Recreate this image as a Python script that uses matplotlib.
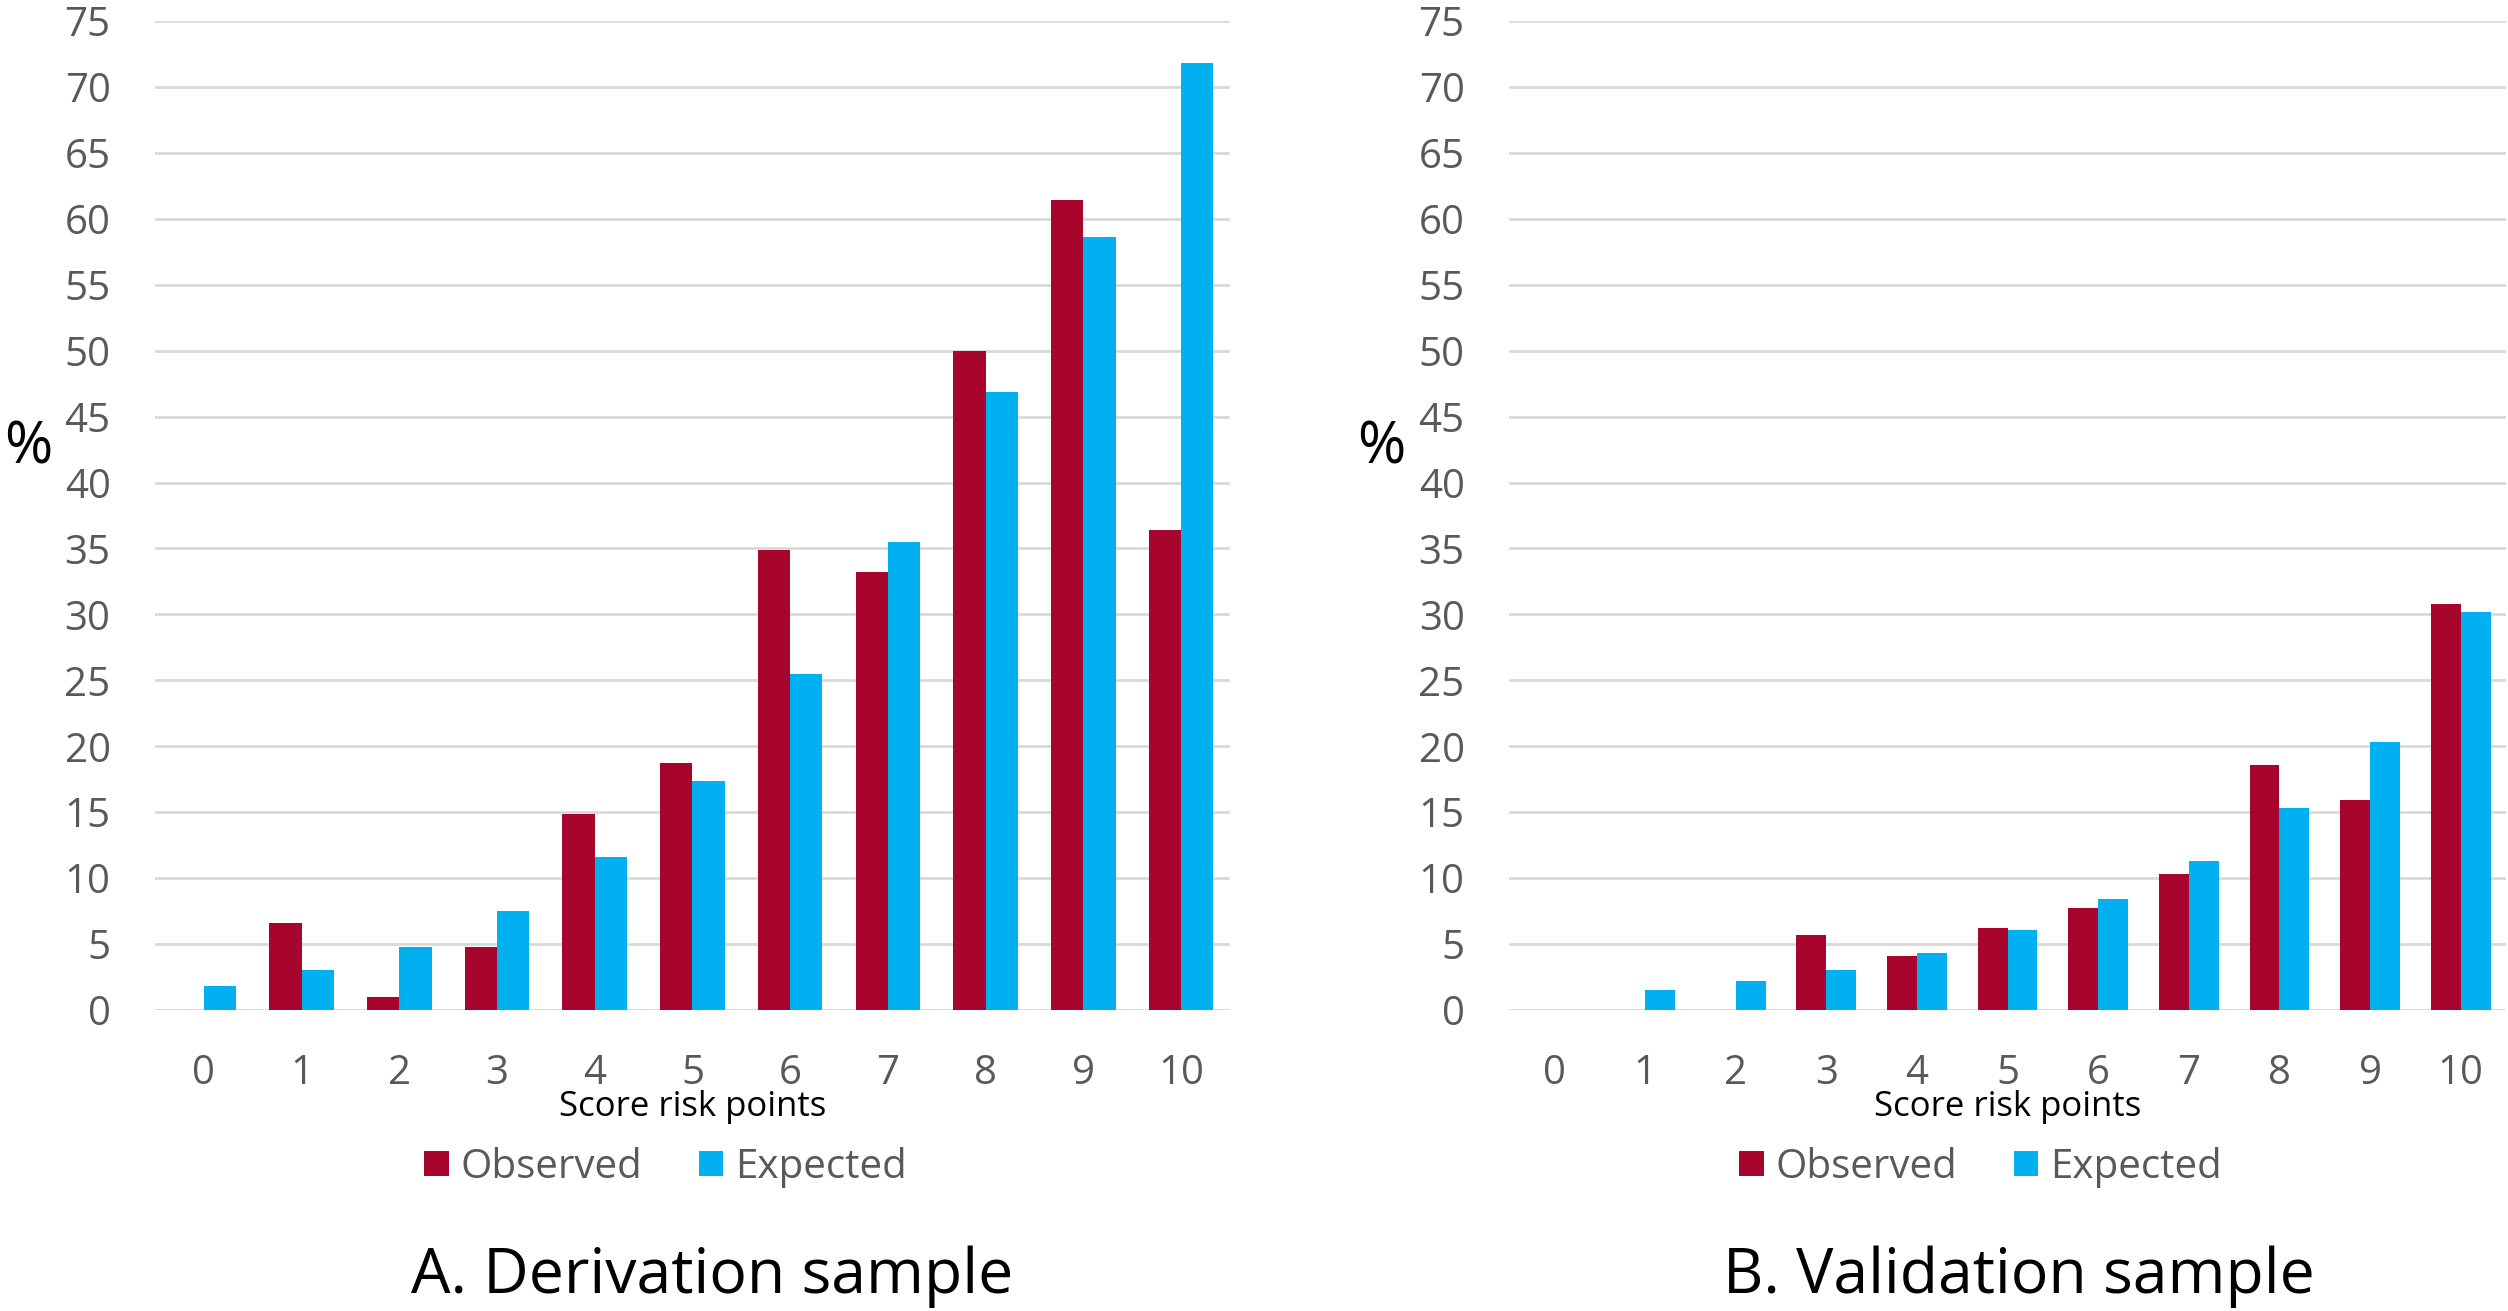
import numpy as np
import matplotlib.pyplot as plt

# score categories
scores = [str(i) for i in range(11)]

# A. derivation sample (%)
deriv_observed = [0, 6.6, 1.0, 4.8, 14.9, 18.7, 34.9, 33.2, 50.0, 61.4, 36.4]
deriv_expected = [1.8, 3.0, 4.8, 7.5, 11.6, 17.4, 25.5, 35.5, 46.9, 58.6, 71.8]

# B. validation sample (%)
valid_observed = [0, 0, 0, 5.7, 4.1, 6.2, 7.7, 10.3, 18.6, 15.9, 30.8]
valid_expected = [0, 1.5, 2.2, 3.0, 4.3, 6.1, 8.4, 11.3, 15.3, 20.3, 30.2]

yticks = list(range(0, 80, 5))

RED = "#A8052D"
BLUE = "#00B0F0"
GRAY = "#595959"

plt.rcParams['font.family'] = ['Open Sans', 'DejaVu Sans']

fig = plt.figure(figsize=(25.08, 13.11), dpi=100)
ax1 = fig.add_axes([0.0618, 0.2296, 0.4286, 0.7544])
ax2 = fig.add_axes([0.6017, 0.2296, 0.3975, 0.7544])

# per panel: axes, data, title, % x pos, legend x, title x
panels = [
    (ax1, deriv_observed, deriv_expected, "A. Derivation sample", -0.14, 0.475, 0.518),
    (ax2, valid_observed, valid_expected, "B. Validation sample", -0.152, 0.473, 0.511),
]

w = 0.33
x = np.arange(len(scores))
for ax, obs, exp, title, px, lx, tx in panels:
    ax.set_axisbelow(True)
    ax.yaxis.grid(True, color="#D9D9D9", linewidth=2)
    ax.bar(x - w / 2, obs, width=w, color=RED, label="Observed", zorder=3)
    ax.bar(x + w / 2, exp, width=w, color=BLUE, label="Expected", zorder=3)
    ax.set_xlim(-0.5, 10.5)
    ax.set_ylim(0, 75)
    ax.set_yticks(yticks)
    ax.set_xticks(x)
    ax.set_xticklabels(scores)
    for s in ax.spines.values():
        s.set_visible(False)
    ax.tick_params(axis="both", length=0, labelsize=29, labelcolor=GRAY)
    ax.tick_params(axis="x", pad=31)
    ax.tick_params(axis="y", pad=32)

    ax.text(px, 0.568, "%", transform=ax.transAxes,
            fontsize=42, ha="left", va="center")
    ax.text(0.5, -0.098, "Score risk points", transform=ax.transAxes,
            fontsize=25, ha="center", va="center")
    ax.legend(loc="center", bbox_to_anchor=(lx, -0.159), ncol=2, frameon=False,
              fontsize=29, labelcolor=GRAY, handlelength=0.6, handleheight=0.6,
              handletextpad=0.3, columnspacing=1.4)
    ax.text(tx, -0.27, title, transform=ax.transAxes, fontsize=45,
            ha="center", va="center")

fig.savefig("out.png", dpi=100)
